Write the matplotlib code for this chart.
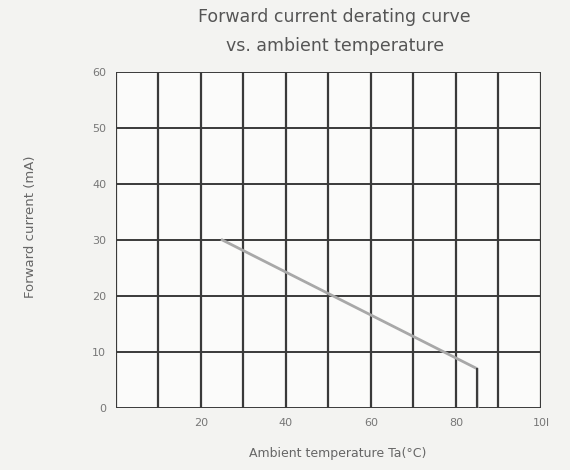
import matplotlib.pyplot as plt

# derating curve
temp = [25, 85, 85]
current = [30, 7, 0]

x_ticks = [20, 40, 60, 80, 100]
x_ticklabels = ['20', '40', '60', '80', '10l']
y_ticks = [0, 10, 20, 30, 40, 50, 60]

fig = plt.figure(figsize=(5.7, 4.7), dpi=100)
fig.patch.set_facecolor('#f3f3f1')
ax = fig.add_axes([0.2035, 0.132, 0.7455, 0.715])
ax.set_facecolor('#fbfbfa')

# grid every 10 in both directions
for gx in range(0, 101, 10):
    ax.axvline(gx, color='#3a3a3a', lw=1.6, zorder=1)
for gy in range(0, 61, 10):
    ax.axhline(gy, color='#3a3a3a', lw=1.4, zorder=1)

ax.plot(temp, current, color='#a8a8a8', lw=2, zorder=2)
ax.plot([85, 85], [0, 7], color='#3a3a3a', lw=1.4, zorder=3)

ax.set_xlim(0, 100)
ax.set_ylim(0, 60)
ax.set_xticks(x_ticks)
ax.set_xticklabels(x_ticklabels)
ax.set_yticks(y_ticks)
ax.tick_params(length=0, labelsize=8, colors='#777777', pad=7)
for s in ax.spines.values():
    s.set_visible(False)

fig.text(0.587, 0.963, 'Forward current derating curve', ha='center', va='center',
         fontsize=12.5, color='#555555')
fig.text(0.587, 0.902, 'vs. ambient temperature', ha='center', va='center',
         fontsize=12.5, color='#555555')
fig.text(0.593, 0.036, 'Ambient temperature Ta(°C)', ha='center', va='center',
         fontsize=9, color='#666666')
fig.text(0.053, 0.517, 'Forward current (mA)', ha='center', va='center',
         rotation=90, fontsize=9.5, color='#666666')

fig.savefig('out.png', dpi=100, facecolor=fig.get_facecolor())
